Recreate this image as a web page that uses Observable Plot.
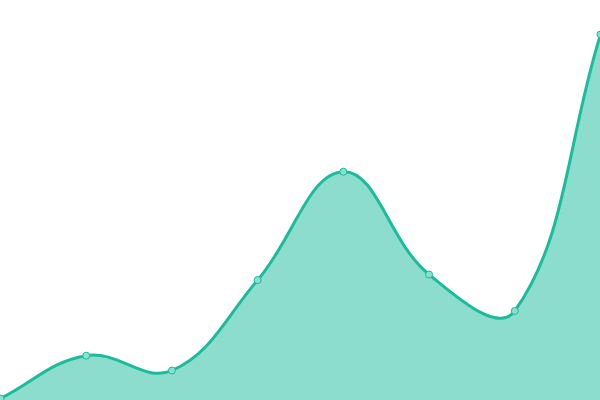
<!DOCTYPE html>
<html>
<head>
<meta charset="utf-8">
<script src="https://cdn.jsdelivr.net/npm/d3@7"></script>
<script src="https://cdn.jsdelivr.net/npm/@observablehq/plot@0.6"></script>
<style>
  html, body { margin: 0; padding: 0; background: #fff; }
</style>
</head>
<body>
<div id="chart"></div>
<script>
const labels = [0, 1, 2, 3, 4, 5, 6, 7];
const values = [0.5, 11.2, 7.5, 30.1, 57.2, 31.5, 22.4, 91.5];

const data = labels.map((x, i) => ({x, y: values[i]}));

// Spline curve with tension 0.4 (distance-weighted control points)
function TensionCurve(context) { this._context = context; }
TensionCurve.prototype = {
  areaStart() { this._line = 0; },
  areaEnd() { this._line = NaN; },
  lineStart() { this._pts = []; },
  lineEnd() {
    const p = this._pts, n = p.length, c = this._context, t = 0.4;
    if (n) {
      const cps = p.map((cur, i) => {
        const prev = p[i - 1] || cur, next = p[i + 1] || cur;
        const d01 = Math.hypot(cur[0] - prev[0], cur[1] - prev[1]);
        const d12 = Math.hypot(next[0] - cur[0], next[1] - cur[1]);
        let s01 = d01 / (d01 + d12), s12 = d12 / (d01 + d12);
        if (!isFinite(s01)) s01 = 0;
        if (!isFinite(s12)) s12 = 0;
        const fa = t * s01, fb = t * s12;
        return {
          px: cur[0] - fa * (next[0] - prev[0]), py: cur[1] - fa * (next[1] - prev[1]),
          nx: cur[0] + fb * (next[0] - prev[0]), ny: cur[1] + fb * (next[1] - prev[1])
        };
      });
      if (this._line) c.lineTo(p[0][0], p[0][1]); else c.moveTo(p[0][0], p[0][1]);
      for (let i = 1; i < n; i++) {
        c.bezierCurveTo(cps[i - 1].nx, cps[i - 1].ny, cps[i].px, cps[i].py, p[i][0], p[i][1]);
      }
    }
    if (this._line || (this._line !== 0 && n === 1)) c.closePath();
    this._line = 1 - this._line;
  },
  point(x, y) { this._pts.push([+x, +y]); }
};
const tensionCurve = (ctx) => new TensionCurve(ctx);

const chart = Plot.plot({
  width: 600,
  height: 400,
  margin: 0,
  x: {domain: [0, 7], axis: null},
  y: {domain: [0, 100], axis: null},
  marks: [
    Plot.areaY(data, {x: "x", y: "y", curve: tensionCurve, fill: "#1abc9c", fillOpacity: 0.5}),
    Plot.lineY(data, {x: "x", y: "y", curve: tensionCurve, stroke: "#1abc9c", strokeWidth: 3}),
    Plot.dot(data, {x: "x", y: "y", r: 3.5, fill: "#8ae0cf", stroke: "#1abc9c", strokeWidth: 1})
  ]
});
document.getElementById("chart").appendChild(chart);
</script>
</body>
</html>
